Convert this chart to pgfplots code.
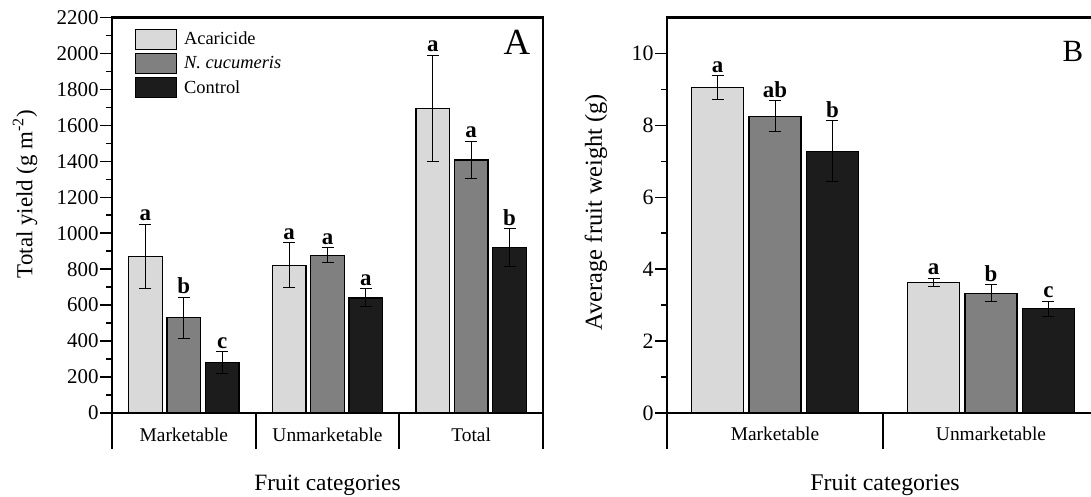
\documentclass[border=0pt]{standalone}
\usepackage{fontspec}
\setmainfont{Liberation Serif}
\usepackage{pgfplots}
\pgfplotsset{compat=1.18}
\definecolor{cA}{RGB}{217,217,217}
\definecolor{cN}{RGB}{128,128,128}
\definecolor{cC}{RGB}{28,28,28}
\newcommand\fs[1]{\fontsize{#1}{#1}\selectfont}
\tikzset{lt/.style={font=\bfseries\fs{23}, anchor=south, inner sep=1pt, yshift=2bp}}
\pgfplotsset{
  myaxis/.style={
    scale only axis, clip=false,
    axis line style={line width=2.2bp},
    tick style={line width=1.5bp, black},
    ytick pos=left, tick align=outside,
    major tick length=12bp, minor tick length=6bp,
    minor y tick num=1,
    xtick style={draw=none},
    /pgf/number format/assume math mode=true,
    /pgf/number format/1000 sep={},
    scaled y ticks=false,
    yticklabel style={font=\fs{21}, xshift=2bp},
    xticklabel style={font=\fs{19.5}, yshift=1bp},
    ybar, ymin=0,
    every axis plot/.append style={draw=black, line width=1.3bp,
      error bars/y dir=both, error bars/y explicit,
      error bars/error bar style={line width=1bp, black},
      error bars/error mark options={rotate=90, mark size=6bp, line width=1bp, black}},
  },
}
\begin{document}
\begin{tikzpicture}
\useasboundingbox (0,0) rectangle (1091bp,497bp);
% Panel A
\begin{axis}[myaxis, at={(112bp,84bp)}, anchor=south west,
  width=431bp, height=395.5bp,
  xmin=-0.5, xmax=2.5, ymax=2200,
  ytick={0,200,...,2200},
  xtick={0,1,2}, xticklabels={Marketable,Unmarketable,Total},
  bar width=0.236,
  legend style={at={(0.05,0.975)}, anchor=north west, draw=none, fill=none,
    font=\fs{18.5}, row sep=3bp, column sep=5bp, inner sep=1pt, cells={anchor=west}},
  legend image code/.code={\draw[#1, line width=1.3bp] (0bp,-10bp) rectangle (41bp,10bp);},
]
\addplot[fill=cA, bar shift=-0.267] coordinates {(0,870) +- (0,180) (1,822) +- (0,125) (2,1695) +- (0,295)};
\addplot[fill=cN, bar shift=0] coordinates {(0,530) +- (0,115) (1,877) +- (0,42) (2,1407) +- (0,104)};
\addplot[fill=cC, bar shift=0.267] coordinates {(0,280) +- (0,62) (1,640) +- (0,50) (2,920) +- (0,106)};
\legend{Acaricide,\textit{N. cucumeris},Control}
\node[lt] at (axis cs:-0.267,1050) {a};
\node[lt] at (axis cs:0,645) {b};
\node[lt] at (axis cs:0.267,342) {c};
\node[lt] at (axis cs:0.733,947) {a};
\node[lt] at (axis cs:1,919) {a};
\node[lt] at (axis cs:1.267,690) {a};
\node[lt] at (axis cs:1.733,1990) {a};
\node[lt] at (axis cs:2,1511) {a};
\node[lt] at (axis cs:2.267,1026) {b};
\draw[line width=2.2bp] (rel axis cs:0,0) -- ++(0pt,-36bp);
\draw[line width=2.2bp] (rel axis cs:1,0) -- ++(0pt,-36bp);
\draw[line width=2.2bp] (axis cs:0.5,0) -- ++(0pt,-36bp);
\draw[line width=2.2bp] (axis cs:1.5,0) -- ++(0pt,-36bp);
\end{axis}
% Panel B
\begin{axis}[myaxis, at={(667bp,84bp)}, anchor=south west,
  width=432bp, height=395.5bp,
  xmin=-0.5, xmax=1.5, ymax=11,
  ytick={0,2,...,10},
  yticklabel style={font=\fs{22}},
  xtick={0,1}, xticklabels={Marketable,Unmarketable},
  bar width=0.241,
]
\addplot[fill=cA, bar shift=-0.266] coordinates {(0,9.05) +- (0,0.33) (1,3.63) +- (0,0.12)};
\addplot[fill=cN, bar shift=0] coordinates {(0,8.25) +- (0,0.43) (1,3.33) +- (0,0.24)};
\addplot[fill=cC, bar shift=0.266] coordinates {(0,7.28) +- (0,0.85) (1,2.90) +- (0,0.21)};
\node[lt] at (axis cs:-0.266,9.38) {a};
\node[lt] at (axis cs:0,8.68) {ab};
\node[lt] at (axis cs:0.266,8.13) {b};
\node[lt] at (axis cs:0.734,3.75) {a};
\node[lt] at (axis cs:1,3.57) {b};
\node[lt] at (axis cs:1.266,3.11) {c};
\draw[line width=2.2bp] (rel axis cs:0,0) -- ++(0pt,-36bp);
\draw[line width=2.2bp] (axis cs:0.5,0) -- ++(0pt,-36bp);
\end{axis}
% Labels
\node[font=\fs{23}, rotate=90] at (25bp,303bp) {Total yield (g m\textsuperscript{-2})};
\node[font=\fs{24.5}, rotate=90] at (596bp,285bp) {Average fruit weight (g)};
\node[font=\fs{23.5}] at (327.5bp,12bp) {Fruit categories};
\node[font=\fs{24}] at (885bp,12bp) {Fruit categories};
\node[font=\fs{37}] at (517bp,454.5bp) {A};
\node[font=\fs{31}] at (1073bp,446bp) {B};
\end{tikzpicture}
\end{document}
